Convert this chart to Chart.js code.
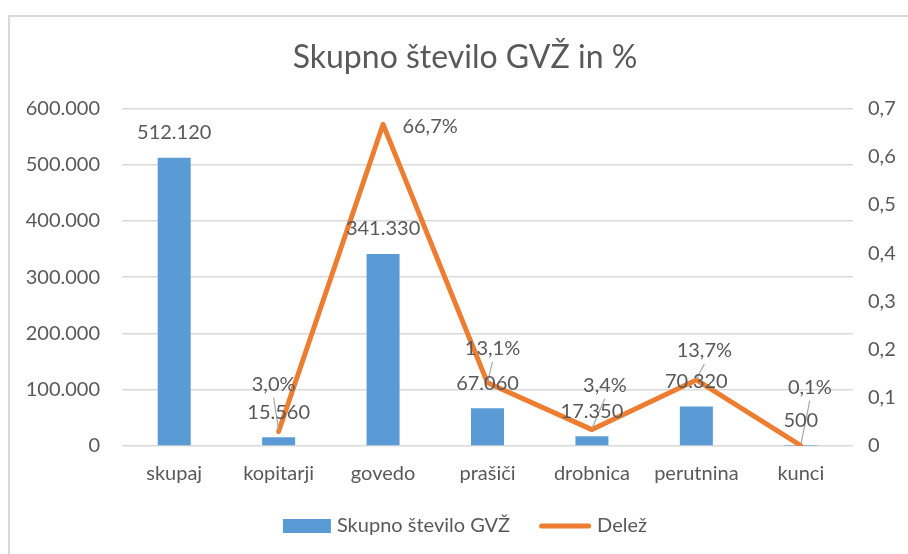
<!DOCTYPE html>
<html>
<head>
<meta charset="utf-8">
<title>Skupno število GVŽ in %</title>
<script src="https://cdn.jsdelivr.net/npm/chart.js@4.4.0/dist/chart.umd.min.js"></script>
<style>
  html, body { margin: 0; padding: 0; background: #ffffff; }
  #wrap { position: relative; width: 908px; height: 554px; overflow: hidden; }
  #frame {
    position: absolute; left: 8px; top: 15px; width: 1000px; height: 1000px;
    border-left: 2px solid #d9d9d9; border-top: 2px solid #d9d9d9;
  }
  #gvzChart { position: absolute; left: 0; top: 0; }
</style>
</head>
<body>
<div id="wrap">
  <div id="frame"></div>
  <canvas id="gvzChart" width="930" height="554"></canvas>
</div>
<script>
// Skupno število GVŽ (bars, left axis) and Delež (line, right axis)

const categories = ["skupaj", "kopitarji", "govedo", "prašiči", "drobnica", "perutnina", "kunci"];
const totalGvz = [512120, 15560, 341330, 67060, 17350, 70320, 500];
const share = [null, 0.030, 0.667, 0.131, 0.034, 0.137, 0.001];

const leftTickValues = [0, 100000, 200000, 300000, 400000, 500000, 600000];
const rightTickValues = [0, 0.1, 0.2, 0.3, 0.4, 0.5, 0.6, 0.7];

const seriesNames = ["Skupno število GVŽ", "Delež"];

// where the % labels sit relative to their point (dx, dy, leader line?)
const shareLabelOffsets = [null, [-5, -47, true], [47, 2, false], [5, -34, true], [13, -44, true], [8, -29, true], [9, -58, true]];

const colors = {
  bar: "#5b9bd5",
  line: "#ed7d31",
  text: "#595959",
  grid: "#d9d9d9",
  leader: "#a6a6a6",
};

const fontFamily = "Lato, 'Open Sans', sans-serif";
const labelSize = 20;

function formatThousands(v) {
  return String(v).replace(/\B(?=(\d{3})+(?!\d))/g, ".");
}

function formatPercent(v) {
  return (v * 100).toFixed(1).replace(".", ",") + "%";
}

// Draw value labels for bars and line
const dataLabelPlugin = {
  id: "dataLabels",
  afterDatasetsDraw(chart) {
    const ctx = chart.ctx;
    ctx.save();
    ctx.font = labelSize + "px " + fontFamily;
    ctx.textAlign = "center";
    ctx.textBaseline = "middle";

    const lineMeta = chart.getDatasetMeta(1);
    lineMeta.data.forEach((pt, i) => {
      if (share[i] === null) return;
      const off = shareLabelOffsets[i];
      const lx = pt.x + off[0];
      const ly = pt.y + off[1];
      if (off[2]) {
        ctx.strokeStyle = colors.leader;
        ctx.lineWidth = 1.2;
        ctx.beginPath();
        ctx.moveTo(lx, ly + 13);
        ctx.lineTo(pt.x, pt.y - 1);
        ctx.stroke();
      }
    });

    ctx.fillStyle = colors.text;
    const barMeta = chart.getDatasetMeta(0);
    barMeta.data.forEach((bar, i) => {
      ctx.fillText(formatThousands(totalGvz[i]), bar.x, bar.y - 25);
    });

    lineMeta.data.forEach((pt, i) => {
      if (share[i] === null) return;
      const off = shareLabelOffsets[i];
      ctx.fillText(formatPercent(share[i]), pt.x + off[0], pt.y + off[1]);
    });
    ctx.restore();
  },
};

// Simple legend at the bottom, like the Excel one
const bottomLegendPlugin = {
  id: "bottomLegend",
  afterDraw(chart) {
    const ctx = chart.ctx;
    ctx.save();
    ctx.font = labelSize + "px " + fontFamily;
    ctx.textBaseline = "middle";
    ctx.textAlign = "left";
    const cy = 526;
    const barW = 48, lineW = 52, gap = 6, itemGap = 29;
    const w0 = ctx.measureText(seriesNames[0]).width;
    const w1 = ctx.measureText(seriesNames[1]).width;
    const total = barW + gap + w0 + itemGap + lineW + gap + w1;
    let x = chart.width / 2 - total / 2;

    ctx.fillStyle = colors.bar;
    ctx.fillRect(x, cy - 7, barW, 14);
    x += barW + gap;
    ctx.fillStyle = colors.text;
    ctx.fillText(seriesNames[0], x, cy);
    x += w0 + itemGap;

    ctx.strokeStyle = colors.line;
    ctx.lineWidth = 5;
    ctx.lineCap = "round";
    ctx.beginPath();
    ctx.moveTo(x + 2.5, cy);
    ctx.lineTo(x + lineW - 2.5, cy);
    ctx.stroke();
    x += lineW + gap;
    ctx.fillStyle = colors.text;
    ctx.fillText(seriesNames[1], x, cy);
    ctx.restore();
  },
};

function initChart() {
  const ctx = document.getElementById("gvzChart");

  const config = {
    type: "bar",
    data: {
      labels: categories,
      datasets: [
        {
          type: "bar",
          label: seriesNames[0],
          data: totalGvz,
          backgroundColor: colors.bar,
          borderWidth: 0,
          barPercentage: 0.316,
          categoryPercentage: 1,
          yAxisID: "y",
          order: 2,
        },
        {
          type: "line",
          label: seriesNames[1],
          data: share,
          borderColor: colors.line,
          backgroundColor: colors.line,
          borderWidth: 5,
          borderJoinStyle: "round",
          borderCapStyle: "round",
          pointRadius: 0,
          tension: 0,
          yAxisID: "y1",
          order: 1,
        },
      ],
    },
    options: {
      responsive: false,
      animation: false,
      layout: {
        padding: { left: 0, right: 0, top: 0, bottom: 0 },
      },
      plugins: {
        legend: { display: false },
        tooltip: { enabled: false },
        title: {
          display: true,
          text: "Skupno število GVŽ in %",
          color: colors.text,
          font: { family: fontFamily, size: 32, weight: "normal" },
          padding: { top: 38, bottom: 32 },
        },
      },
      scales: {
        x: {
          grid: { display: false },
          border: { display: false },
          ticks: {
            color: colors.text,
            font: { family: fontFamily, size: labelSize },
            padding: 8,
            maxRotation: 0,
          },
          afterFit: function (scale) {
            scale.height = 108;
          },
        },
        y: {
          position: "left",
          min: leftTickValues[0],
          max: leftTickValues[leftTickValues.length - 1],
          afterBuildTicks: function (scale) {
            scale.ticks = leftTickValues.map((v) => ({ value: v }));
          },
          grid: {
            color: colors.grid,
            lineWidth: 1.5,
            drawTicks: false,
          },
          border: { display: false },
          ticks: {
            color: colors.text,
            font: { family: fontFamily, size: labelSize },
            padding: 22,
            callback: function (value) {
              return formatThousands(value);
            },
          },
          afterFit: function (scale) {
            scale.width = 122;
          },
        },
        y1: {
          position: "right",
          min: rightTickValues[0],
          max: rightTickValues[rightTickValues.length - 1],
          afterBuildTicks: function (scale) {
            scale.ticks = rightTickValues.map((v) => ({ value: v }));
          },
          grid: { display: false, drawTicks: false },
          border: { display: false },
          ticks: {
            color: colors.text,
            font: { family: fontFamily, size: labelSize },
            padding: 15,
            callback: function (value) {
              return value === 0 ? "0" : value.toFixed(1).replace(".", ",");
            },
          },
          afterFit: function (scale) {
            scale.width = 77;
          },
        },
      },
    },
    plugins: [dataLabelPlugin, bottomLegendPlugin],
  };

  return new Chart(ctx, config);
}

document.addEventListener("DOMContentLoaded", function () {
  if (typeof Chart === "undefined") {
    console.error("Chart.js is not loaded.");
    return;
  }
  initChart();
});
</script>
</body>
</html>
